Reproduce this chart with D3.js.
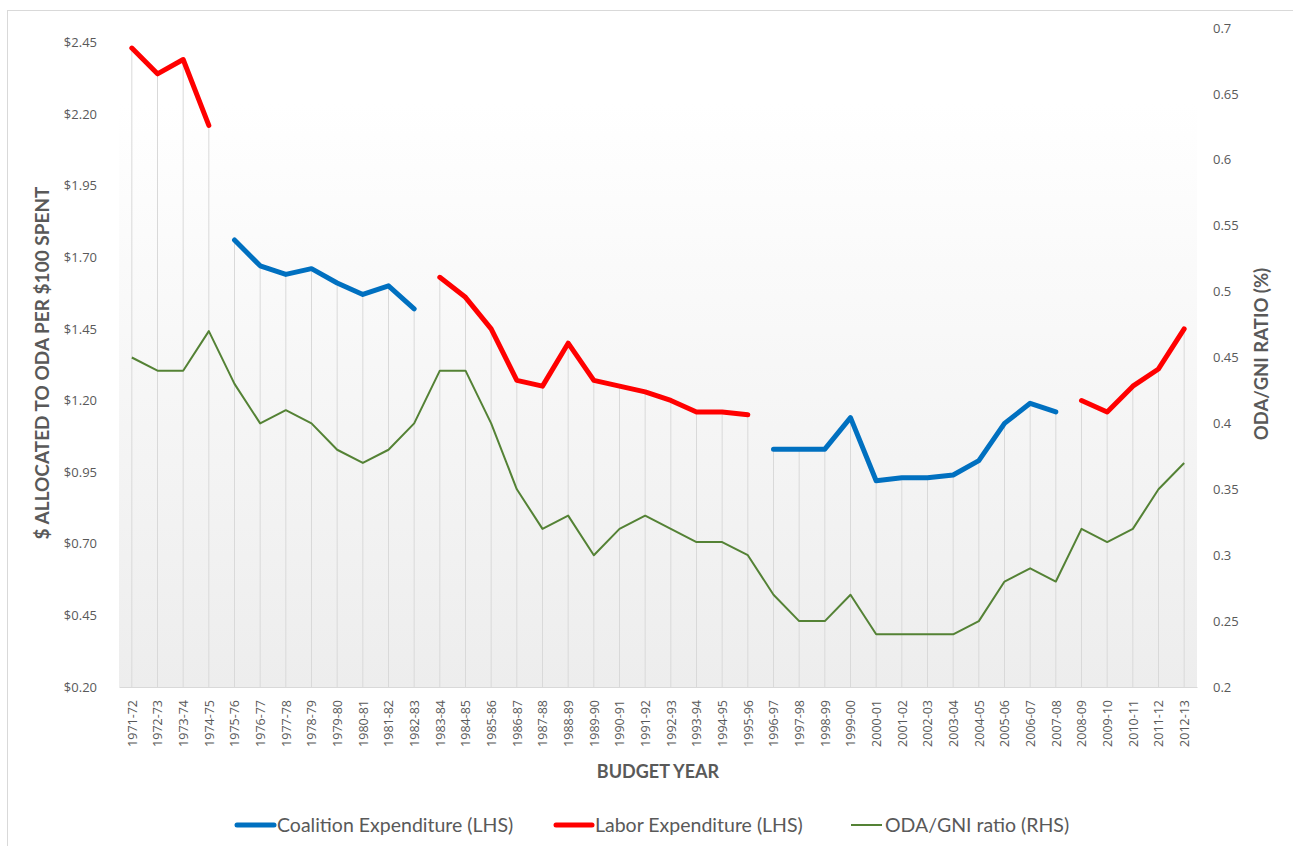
<!DOCTYPE html>
<html>
<head>
<meta charset="utf-8">
<script src="https://cdn.jsdelivr.net/npm/d3@7"></script>
<style>
  body { margin: 0; background: #fff; }
  svg { display: block; }
</style>
</head>
<body>
<svg id="chart" width="1293" height="846"></svg>
<script>
// budget years (categories)
const years = ["1971-72","1972-73","1973-74","1974-75","1975-76","1976-77","1977-78","1978-79",
  "1979-80","1980-81","1981-82","1982-83","1983-84","1984-85","1985-86","1986-87","1987-88",
  "1988-89","1989-90","1990-91","1991-92","1992-93","1993-94","1994-95","1995-96","1996-97",
  "1997-98","1998-99","1999-00","2000-01","2001-02","2002-03","2003-04","2004-05","2005-06",
  "2006-07","2007-08","2008-09","2009-10","2010-11","2011-12","2012-13"];

// $ per $100 spent, Coalition years (LHS)
const coalition = [null,null,null,null,1.76,1.67,1.64,1.66,1.61,1.57,1.60,1.52,
  null,null,null,null,null,null,null,null,null,null,null,null,null,
  1.03,1.03,1.03,1.14,0.92,0.93,0.93,0.94,0.99,1.12,1.19,1.16,
  null,null,null,null,null];

// $ per $100 spent, Labor years (LHS)
const labor = [2.43,2.34,2.39,2.16,null,null,null,null,null,null,null,null,
  1.63,1.56,1.45,1.27,1.25,1.40,1.27,1.25,1.23,1.20,1.16,1.16,1.15,
  null,null,null,null,null,null,null,null,null,null,null,null,
  1.20,1.16,1.25,1.31,1.45];

// ODA/GNI ratio (RHS)
const odaGni = [0.45,0.44,0.44,0.47,0.43,0.40,0.41,0.40,0.38,0.37,0.38,0.40,
  0.44,0.44,0.40,0.35,0.32,0.33,0.30,0.32,0.33,0.32,0.31,0.31,0.30,
  0.27,0.25,0.25,0.27,0.24,0.24,0.24,0.24,0.25,0.28,0.29,0.28,
  0.32,0.31,0.32,0.35,0.37];

const leftTicks = [0.20,0.45,0.70,0.95,1.20,1.45,1.70,1.95,2.20,2.45];
const rightTicks = [0.2,0.25,0.3,0.35,0.4,0.45,0.5,0.55,0.6,0.65,0.7];

const seriesNames = ["Coalition Expenditure (LHS)", "Labor Expenditure (LHS)", "ODA/GNI ratio (RHS)"];
const seriesColors = ["#0070c0", "#ff0000", "#548235"];

const plot = { left: 119, right: 1197, top: 28, bottom: 687, shadeTop: 103 };
const tickGrey = "#595959";
const titleGrey = "#595959";

const svg = d3.select("#chart");

// chart border
svg.append("rect")
  .attr("x", 7.5).attr("y", 10.5)
  .attr("width", 1300).attr("height", 850)
  .attr("fill", "#fff").attr("stroke", "#d9d9d9");

const x = d3.scalePoint()
  .domain(years)
  .range([plot.left, plot.right])
  .padding(0.5);

const yL = d3.scaleLinear().domain([0.2, 2.5]).range([plot.bottom, plot.top]);
const yR = d3.scaleLinear().domain([0.2, 0.7]).range([plot.bottom, plot.top]);

// plot area shading
const defs = svg.append("defs");
const grad = defs.append("linearGradient")
  .attr("id", "plotGrad").attr("x1", 0).attr("y1", 0).attr("x2", 0).attr("y2", 1);
grad.append("stop").attr("offset", "0%").attr("stop-color", "#ffffff");
grad.append("stop").attr("offset", "100%").attr("stop-color", "#ededed");

svg.append("rect")
  .attr("x", plot.left).attr("y", plot.shadeTop)
  .attr("width", plot.right - plot.left)
  .attr("height", plot.bottom - plot.shadeTop)
  .attr("fill", "url(#plotGrad)");

// drop lines: from highest point of each category down to the axis
const dropTop = years.map((yr, i) => {
  const ys = [];
  if (coalition[i] != null) ys.push(yL(coalition[i]));
  if (labor[i] != null) ys.push(yL(labor[i]));
  ys.push(yR(odaGni[i]));
  return d3.min(ys);
});

svg.append("g")
  .selectAll("line")
  .data(years)
  .enter().append("line")
  .attr("x1", d => x(d)).attr("x2", d => x(d))
  .attr("y1", (d, i) => dropTop[i])
  .attr("y2", plot.bottom)
  .attr("stroke", "#d9d9d9")
  .attr("stroke-width", 1);

// x axis
const xAxis = svg.append("g")
  .attr("transform", `translate(0,${plot.bottom})`)
  .call(d3.axisBottom(x).tickSize(0));
xAxis.select(".domain").attr("stroke", "#d9d9d9");
xAxis.selectAll("text")
  .attr("transform", "rotate(-90)")
  .attr("text-anchor", "end")
  .attr("x", -13).attr("y", 0).attr("dy", "0.35em")
  .attr("fill", tickGrey)
  .style("font-family", "'Open Sans', sans-serif")
  .style("font-size", "12.5px");

// left axis
const leftAxis = svg.append("g")
  .attr("transform", `translate(${plot.left},0)`)
  .call(d3.axisLeft(yL).tickValues(leftTicks).tickSize(0).tickPadding(22)
    .tickFormat(d => "$" + d.toFixed(2)));
leftAxis.select(".domain").remove();
leftAxis.selectAll("text")
  .attr("fill", tickGrey)
  .style("font-family", "'Open Sans', sans-serif")
  .style("font-size", "13px");

// right axis
const rightAxis = svg.append("g")
  .attr("transform", `translate(${plot.right},0)`)
  .call(d3.axisRight(yR).tickValues(rightTicks).tickSize(0).tickPadding(16)
    .tickFormat(d => String(d)));
rightAxis.select(".domain").remove();
rightAxis.selectAll("text")
  .attr("fill", tickGrey)
  .style("font-family", "'Open Sans', sans-serif")
  .style("font-size", "13px");

// series lines
const lineL = d3.line()
  .defined(d => d != null)
  .x((d, i) => x(years[i]))
  .y(d => yL(d));
const lineR = d3.line()
  .x((d, i) => x(years[i]))
  .y(d => yR(d));

svg.append("path")
  .datum(odaGni)
  .attr("d", lineR)
  .attr("fill", "none")
  .attr("stroke", seriesColors[2])
  .attr("stroke-width", 2)
  .attr("stroke-linejoin", "round");

[coalition, labor].forEach((s, k) => {
  svg.append("path")
    .datum(s)
    .attr("d", lineL)
    .attr("fill", "none")
    .attr("stroke", seriesColors[k])
    .attr("stroke-width", 5)
    .attr("stroke-linejoin", "round")
    .attr("stroke-linecap", "round");
});

// axis titles
const titleFont = "Lato, 'Open Sans', sans-serif";
svg.append("text")
  .attr("transform", "translate(42,363) rotate(-90)")
  .attr("text-anchor", "middle")
  .attr("dy", "0.35em")
  .attr("fill", titleGrey)
  .attr("font-weight", "bold")
  .style("font-family", titleFont)
  .style("font-size", "19px")
  .text("$ ALLOCATED TO ODA PER $100 SPENT");

svg.append("text")
  .attr("transform", "translate(1262,354) rotate(-90)")
  .attr("text-anchor", "middle")
  .attr("dy", "0.35em")
  .attr("fill", titleGrey)
  .attr("font-weight", "bold")
  .style("font-family", titleFont)
  .style("font-size", "18.5px")
  .text("ODA/GNI RATIO (%)");

svg.append("text")
  .attr("x", 658).attr("y", 772)
  .attr("text-anchor", "middle")
  .attr("dy", "0.35em")
  .attr("fill", titleGrey)
  .attr("font-weight", "bold")
  .style("font-family", titleFont)
  .style("font-size", "18px")
  .text("BUDGET YEAR");

// legend
const legendItems = [
  { name: seriesNames[0], color: seriesColors[0], width: 5, x0: 237, x1: 274 },
  { name: seriesNames[1], color: seriesColors[1], width: 5, x0: 556, x1: 592 },
  { name: seriesNames[2], color: seriesColors[2], width: 2, x0: 851, x1: 882 }
];
const legend = svg.append("g").attr("transform", "translate(0,825)");
legendItems.forEach(it => {
  legend.append("line")
    .attr("x1", it.x0).attr("x2", it.x1)
    .attr("y1", 0).attr("y2", 0)
    .attr("stroke", it.color)
    .attr("stroke-width", it.width)
    .attr("stroke-linecap", it.width > 2 ? "round" : "butt");
  legend.append("text")
    .attr("x", it.x1 + 3).attr("y", 0)
    .attr("dy", "0.35em")
    .attr("fill", tickGrey)
    .style("font-family", titleFont)
    .style("font-size", "19.5px")
    .text(it.name);
});
</script>
</body>
</html>
